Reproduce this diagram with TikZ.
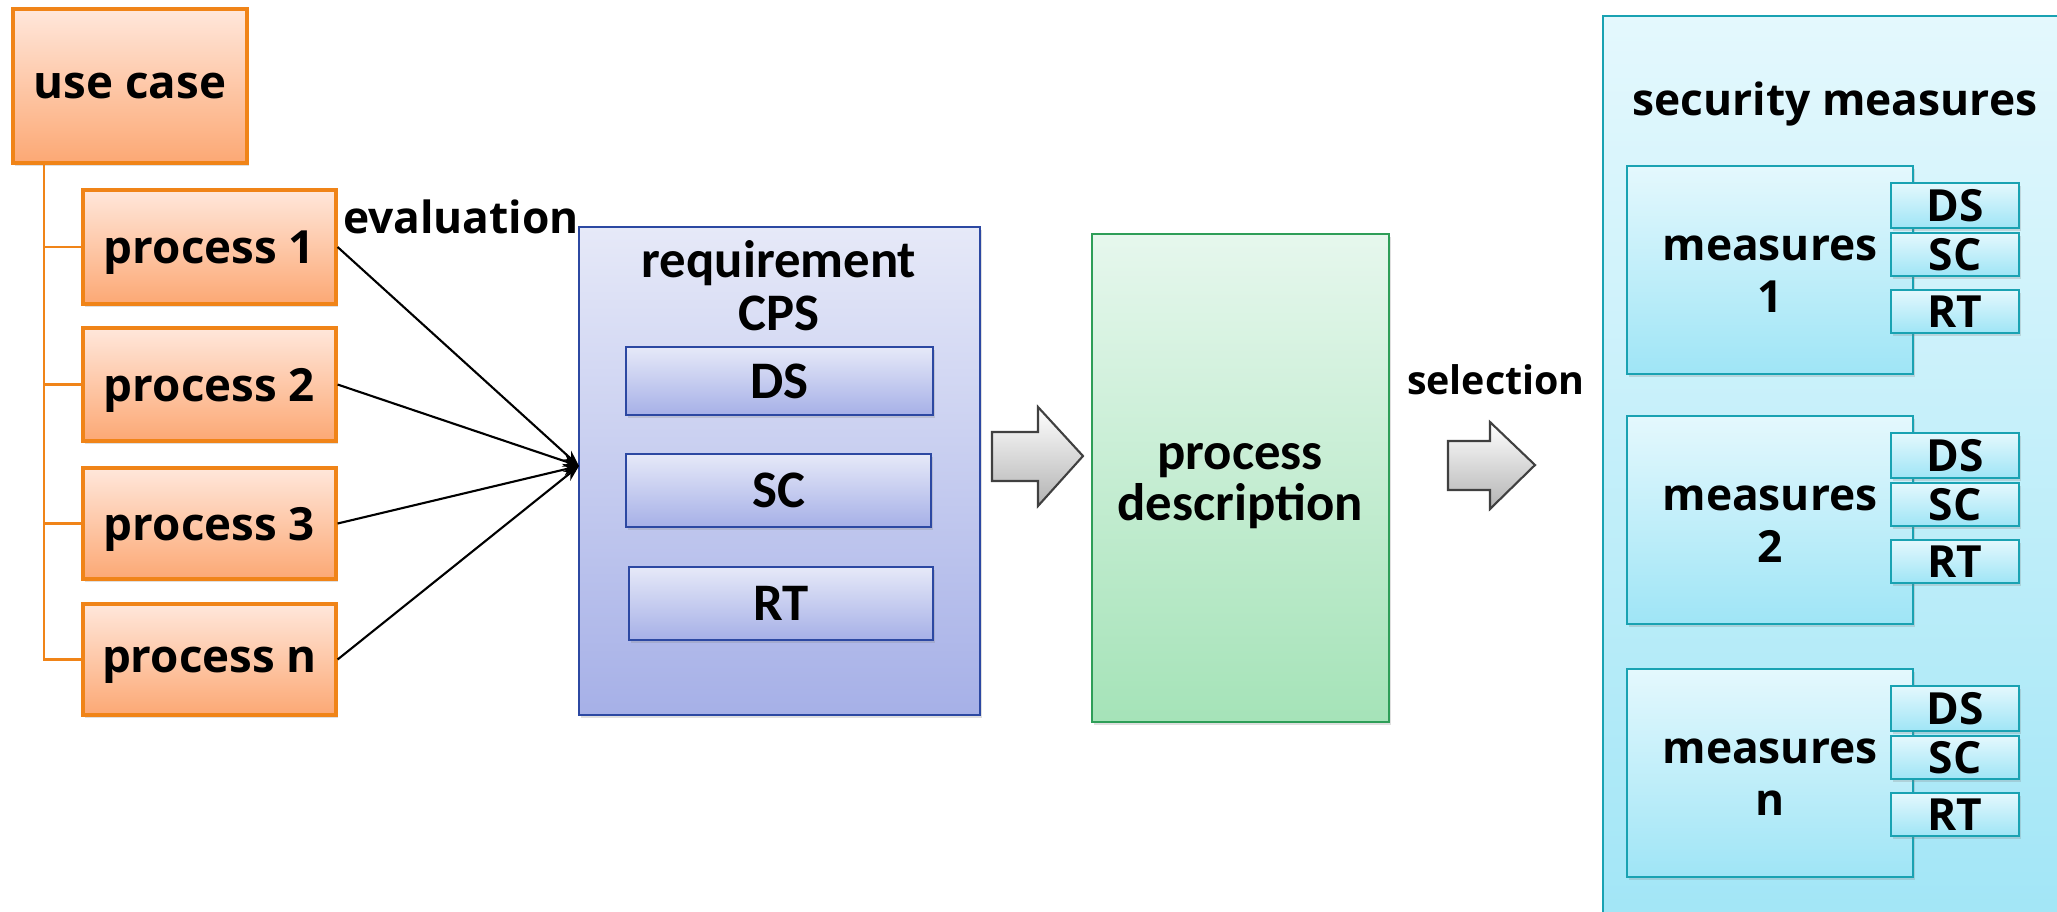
\documentclass[tikz,border=0pt]{standalone}
\usepackage{fontspec}
\setmainfont{Open Sans}
\newfontfamily\calfont{Carlito}
\usetikzlibrary{shadows,arrows.meta}
\definecolor{orB}{HTML}{F08418}
\definecolor{orT}{HTML}{FFE7DB}
\definecolor{orL}{HTML}{FCA874}
\definecolor{blB}{HTML}{2C48A2}
\definecolor{blT}{HTML}{E6E9F8}
\definecolor{blL}{HTML}{A6B0E7}
\definecolor{grB}{HTML}{2E9E58}
\definecolor{grT}{HTML}{E6F7ED}
\definecolor{grL}{HTML}{A5E3B8}
\definecolor{cyB}{HTML}{19A2B2}
\definecolor{cyT}{HTML}{E4F8FD}
\definecolor{cyL}{HTML}{9FE5F6}
% box from pixel corners (x1,y1)-(x2,y2)
\newcommand\bx[7]{%
  \pgfmathsetmacro\bw{(#5)-(#3)}\pgfmathsetmacro\bh{(#6)-(#4)}%
  \pgfmathsetmacro\bcx{((#3)+(#5))/2}\pgfmathsetmacro\bcy{((#4)+(#6))/2}%
  \node[#1,minimum width=\bw*0.01cm,minimum height=\bh*0.01cm] (#2) at (\bcx,\bcy) {#7};}
\begin{document}
\begin{tikzpicture}[x=0.01cm,y=-0.01cm,
  shd/.style={drop shadow={opacity=0.25,shadow xshift=0.02cm,shadow yshift=-0.03cm}},
  lfont/.style={font=\fontsize{12.6}{15}\selectfont\bfseries},
  cfont/.style={font=\calfont\fontsize{15}{18}\selectfont\bfseries},
  orbox/.style={draw=orB,line width=0.9pt,top color=orT,bottom color=orL,inner sep=0pt,shd,
    font=\fontsize{13}{15}\selectfont\bfseries,text depth=0pt},
  blbox/.style={draw=blB,line width=0.7pt,top color=blT,bottom color=blL,inner sep=0pt,shd,cfont},
  grbox/.style={draw=grB,line width=0.7pt,top color=grT,bottom color=grL,inner sep=0pt,shd},
  cybox/.style={draw=cyB,line width=0.7pt,top color=cyT,bottom color=cyL,inner sep=0pt,shd,lfont},
  tree/.style={draw=orB,line width=0.7pt},
  conn/.style={draw=black,line width=0.6pt,-{Stealth[length=0.16cm,width=0.12cm]}},
  bigarrow/.style={draw=black!75,line width=0.6pt,top color=white,bottom color=black!30},
  txt/.style={inner sep=0pt,anchor=base}
]
\useasboundingbox (0,0) rectangle (2057,911);

% left tree
\bx{orbox}{uc}{13}{9}{247}{163}{use case}
\bx{orbox}{p1}{83}{190}{336}{304}{process 1}
\bx{orbox}{p2}{83}{328}{336}{441}{process 2}
\bx{orbox}{p3}{83}{468}{336}{579}{process 3}
\bx{orbox}{pn}{83}{604}{336}{715}{process n}
\coordinate (t0) at (44,163);
\draw[tree] (t0) |- (pn.west);
\draw[tree] (t0 |- p1.west) -- (p1.west);
\draw[tree] (t0 |- p2.west) -- (p2.west);
\draw[tree] (t0 |- p3.west) -- (p3.west);

\node[txt,lfont] (eval) at (461,233) {evaluation};

% requirement CPS
\bx{blbox}{req}{579}{227}{980}{715}{}
\node[txt,cfont] (reqa) at (779,277) {requirement};
\node[txt,cfont] (reqb) at (779,330) {CPS};
\bx{blbox}{rds}{626}{347}{933}{415}{DS}
\bx{blbox}{rsc}{626}{454}{931}{527}{SC}
\bx{blbox}{rrt}{629}{567}{933}{640}{RT}

\coordinate (conv) at (579,466);
\draw[conn] (p1.east) -- (conv);
\draw[conn] (p2.east) -- (conv);
\draw[conn] (p3.east) -- (conv);
\draw[conn] (pn.east) -- (conv);

% arrow 1
\shade[bigarrow] (992,432) -- (1038,432) -- (1038,407) -- (1083,456) -- (1038,506) -- (1038,481) -- (992,481) -- cycle;

% process description
\bx{grbox}{pd}{1092}{234}{1389}{722}{}
\node[txt,cfont] (pda) at (1240,469) {process};
\node[txt,cfont] (pdb) at (1240,520) {description};

\node[txt,font=\fontsize{11.2}{13}\selectfont\bfseries] (sel) at (1496,394) {selection};

% arrow 2
\shade[bigarrow] (1448,441) -- (1490,441) -- (1490,422) -- (1535,465) -- (1490,509) -- (1490,490) -- (1448,490) -- cycle;

% security measures
\bx{cybox}{sec}{1603}{16}{2090}{960}{}
\node[txt,lfont] (sect) at (1835,115) {security measures};

\foreach \n/\t/\lab in {m1/166/1, m2/416/2, mn/669/n}{
  \bx{cybox}{\n}{1627}{\t}{1913}{\t+208}{}
  \node[txt,lfont] (\n a) at (1770,\t+94) {measures};
  \node[txt,lfont] (\n b) at (1770,\t+146) {\lab};
  \bx{cybox}{\n ds}{1891}{\t+17}{2019}{\t+62}{DS}
  \bx{cybox}{\n sc}{1891}{\t+67}{2019}{\t+110}{SC}
  \bx{cybox}{\n rt}{1891}{\t+124}{2019}{\t+167}{RT}
}
\end{tikzpicture}
\end{document}
